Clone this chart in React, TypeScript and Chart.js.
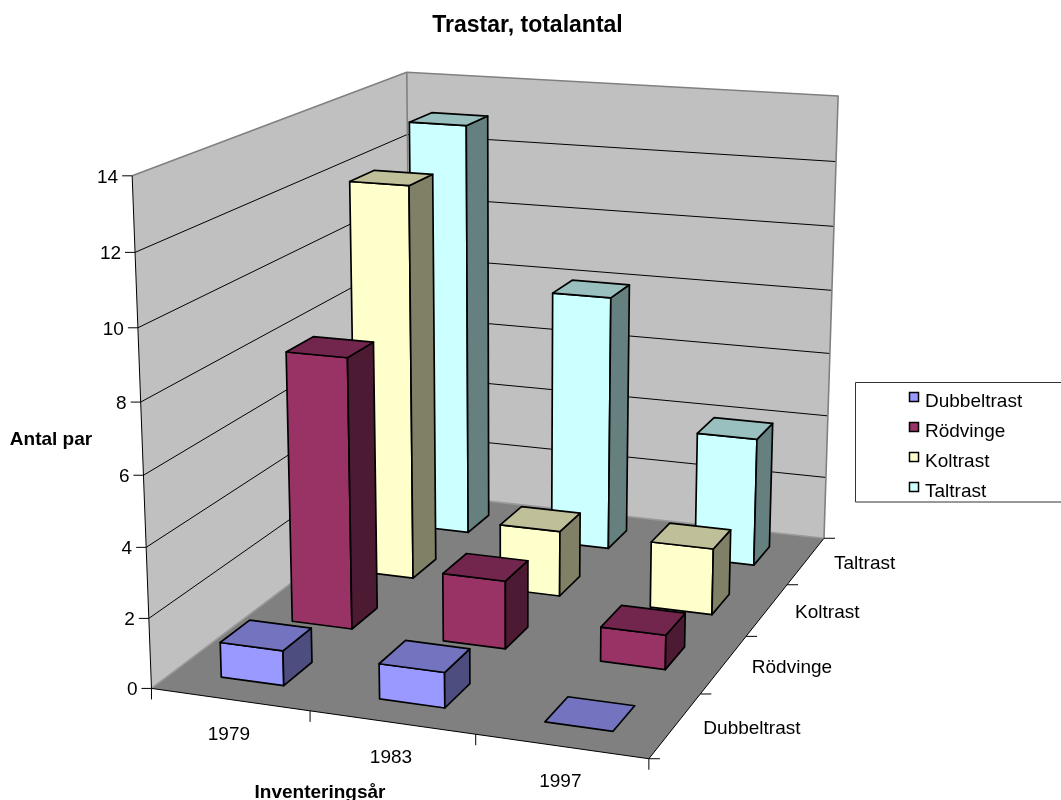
import React, { useEffect, useRef } from "react";
import { Chart, BarController, registerables } from "chart.js";

// Survey years and thrush species, front row first.
const years = ["1979", "1983", "1997"];
const dubbeltrast = [1, 1, 0];
const rodvinge = [8, 2, 1];
const koltrast = [12, 2, 2];
const taltrast = [13, 8, 4];
const valueTickStep = 2;
const valueMax = 14;

const FONT = '"Liberation Sans", Arial, sans-serif';
const BAR_DEPTH = 0.4; // share of a series row taken by a bar

type V3 = [number, number, number];

// Where the corners of the unit box (year, series, value) land on the canvas.
const boxCorners: [V3, [number, number]][] = [
  [[0, 0, 0], [151.5, 688]],
  [[1, 0, 0], [649, 759]],
  [[1, 1, 0], [824, 538]],
  [[0, 1, 0], [411, 493]],
  [[0, 0, 1], [132, 176]],
  [[0, 1, 1], [407, 72]],
  [[1, 1, 1], [838, 96]],
];

// Least-squares fit of a 3x4 projective camera, with its last element fixed at 1.
function fitCamera(points: [V3, [number, number]][]): number[] {
  const n = 11;
  const ata = Array.from({ length: n }, () => new Array(n + 1).fill(0));
  const addRow = (row: number[], rhs: number) => {
    for (let i = 0; i < n; i++) {
      for (let j = 0; j < n; j++) ata[i][j] += row[i] * row[j];
      ata[i][n] += row[i] * rhs;
    }
  };
  for (const [[X, Y, Z], [x, y]] of points) {
    addRow([X, Y, Z, 1, 0, 0, 0, 0, -x * X, -x * Y, -x * Z], x);
    addRow([0, 0, 0, 0, X, Y, Z, 1, -y * X, -y * Y, -y * Z], y);
  }
  for (let i = 0; i < n; i++) ata[i][i] += 1e-9;
  for (let c = 0; c < n; c++) {
    let pivot = c;
    for (let r = c + 1; r < n; r++) if (Math.abs(ata[r][c]) > Math.abs(ata[pivot][c])) pivot = r;
    [ata[c], ata[pivot]] = [ata[pivot], ata[c]];
    for (let r = 0; r < n; r++) {
      if (r === c) continue;
      const f = ata[r][c] / ata[c][c];
      for (let k = c; k <= n; k++) ata[r][k] -= f * ata[c][k];
    }
  }
  return ata.map((row, i) => row[n] / row[i]);
}

const cam = fitCamera(boxCorners);
const project = (X: number, Y: number, Z: number): [number, number] => {
  const d = cam[8] * X + cam[9] * Y + cam[10] * Z + 1;
  return [
    (cam[0] * X + cam[1] * Y + cam[2] * Z + cam[3]) / d,
    (cam[4] * X + cam[5] * Y + cam[6] * Z + cam[7]) / d,
  ];
};

function shade(hex: string, k: number): string {
  const n = parseInt(hex.slice(1), 16);
  const c = [(n >> 16) & 255, (n >> 8) & 255, n & 255].map((v) => Math.round(v * k));
  return `rgb(${c[0]},${c[1]},${c[2]})`;
}

function poly(ctx: CanvasRenderingContext2D, pts: [number, number][], fill: string | null, stroke: string | null, width = 1) {
  ctx.beginPath();
  pts.forEach(([x, y], i) => (i ? ctx.lineTo(x, y) : ctx.moveTo(x, y)));
  if (fill) {
    ctx.closePath();
    ctx.fillStyle = fill;
    ctx.fill();
  }
  if (stroke) {
    ctx.strokeStyle = stroke;
    ctx.lineWidth = width;
    ctx.lineJoin = "round";
    ctx.stroke();
  }
}

// Bar controller that renders each bar element as a projected prism.
class Bar3DController extends BarController {
  static id = "bar3d";
  draw() {
    const chart: any = this.chart;
    const ctx: CanvasRenderingContext2D = chart.ctx;
    const meta: any = this.getMeta();
    const xs = meta.xScale;
    const ys = meta.yScale;
    const rows = chart.data.datasets.length;
    const color: string = (this.getDataset() as any).backgroundColor;
    const y0 = (meta.index + 0.5 - BAR_DEPTH / 2) / rows;
    const y1 = (meta.index + 0.5 + BAR_DEPTH / 2) / rows;
    meta.data.forEach((el: any) => {
      const x0 = (el.x - el.width / 2 - xs.left) / xs.width;
      const x1 = (el.x + el.width / 2 - xs.left) / xs.width;
      const z = (ys.bottom - el.y) / ys.height;
      const top: [number, number][] = [project(x0, y0, z), project(x1, y0, z), project(x1, y1, z), project(x0, y1, z)];
      if (z > 0) {
        poly(ctx, [project(x0, y0, 0), project(x1, y0, 0), project(x1, y0, z), project(x0, y0, z)], color, "#000", 1.7);
        poly(ctx, [project(x1, y0, 0), project(x1, y1, 0), project(x1, y1, z), project(x1, y0, z)], shade(color, 0.5), "#000", 1.7);
      }
      poly(ctx, top, shade(color, 0.75), "#000", 1.7);
    });
  }
}

Chart.register(...registerables, Bar3DController);

function text(ctx: CanvasRenderingContext2D, s: string, x: number, y: number, align: CanvasTextAlign, bold = false) {
  ctx.font = `${bold ? "bold " : ""}19px ${FONT}`;
  ctx.fillStyle = "#000";
  ctx.textAlign = align;
  ctx.textBaseline = "middle";
  ctx.fillText(s, x, y);
}

// Walls, floor, gridlines, tick marks and axis texts of the box.
const boxFrame = {
  id: "boxFrame",
  beforeDatasetsDraw(chart: any) {
    const ctx: CanvasRenderingContext2D = chart.ctx;
    const xs = chart.scales.x;
    const ys = chart.scales.y;
    const names: string[] = chart.data.datasets.map((d: any) => d.label);
    const wallEdge = "#808080";

    poly(ctx, [project(0, 0, 0), project(0, 1, 0), project(0, 1, 1), project(0, 0, 1)], "#c0c0c0", null);
    poly(ctx, [project(0, 1, 0), project(1, 1, 0), project(1, 1, 1), project(0, 1, 1)], "#c0c0c0", null);
    poly(ctx, [project(0, 0, 0), project(1, 0, 0), project(1, 1, 0), project(0, 1, 0)], "#808080", null);

    for (const t of ys.ticks) {
      const z = (ys.bottom - ys.getPixelForValue(t.value)) / ys.height;
      if (z > 0 && z < 1) poly(ctx, [project(0, 0, z), project(0, 1, z), project(1, 1, z)], null, "#000", 1);
    }
    poly(ctx, [project(0, 0, 1), project(0, 1, 1), project(1, 1, 1), project(1, 1, 0)], null, wallEdge, 1.6);
    poly(ctx, [project(0, 1, 1), project(0, 1, 0)], null, wallEdge, 1.6);
    poly(ctx, [project(0, 0, 0), project(0, 1, 0), project(1, 1, 0)], null, "#999", 1.6);
    poly(ctx, [project(0, 0, 1), project(0, 0, 0), project(1, 0, 0), project(1, 1, 0)], null, "#000", 1);

    for (const t of ys.ticks) {
      const z = (ys.bottom - ys.getPixelForValue(t.value)) / ys.height;
      const [x, y] = project(0, 0, z);
      poly(ctx, [[x - 10, y], [x, y]], null, "#000", 1);
      text(ctx, String(t.value), x - 14, y + 1.5, "right");
    }

    const cats = years.length;
    for (let i = 0; i <= cats; i++) {
      const [x, y] = project(i / cats, 0, 0);
      poly(ctx, [[x, y], [x, y + 11]], null, "#000", 1);
    }
    xs.getLabels().forEach((label: string, i: number) => {
      const u = (xs.getPixelForValue(i) - xs.left) / xs.width;
      const [x, y] = project(u, 0, 0);
      text(ctx, label, x - 1, y + 35.5, "center");
    });

    for (let j = 0; j <= names.length; j++) {
      const [x, y] = project(1, j / names.length, 0);
      poly(ctx, [[x, y], [x + 11, y]], null, "#000", 1);
    }
    names.forEach((name, j) => {
      const [x, y] = project(1, (j + 0.5) / names.length, 0);
      text(ctx, name, x + 28, y + 3, "left");
    });

    text(ctx, "Antal par", 51, 440, "center", true);
    text(ctx, "Inventeringsår", 320, 792.5, "center", true);

    ctx.strokeStyle = "#333";
    ctx.lineWidth = 1;
    ctx.strokeRect(855.5, 382.5, 220, 119.5);
  },
};

// Moves the legend into its framed box to the right of the plot.
const legendPlacement = {
  id: "legendPlacement",
  afterLayout(chart: any) {
    const l = chart.legend;
    const w = l.width;
    const h = l.height;
    l.left = 896.5;
    l.right = 896.5 + w;
    l.top = 381;
    l.bottom = 381 + h;
  },
};

// Legend marker on a transparent tile, sitting above the text's middle line.
function swatch(color: string): HTMLCanvasElement {
  const c = document.createElement("canvas");
  c.width = 17;
  c.height = 21;
  const g = c.getContext("2d")!;
  g.fillStyle = color;
  g.fillRect(6.5, 1.5, 9, 9);
  g.strokeStyle = "#000";
  g.lineWidth = 1.5;
  g.strokeRect(6.5, 1.5, 9, 9);
  return c;
}

export default function App() {
  const ref = useRef<HTMLCanvasElement>(null);
  useEffect(() => {
    const common = { grouped: false, categoryPercentage: 0.4, barPercentage: 1 };
    const chart = new Chart(ref.current!, {
      type: "bar3d" as any,
      data: {
        labels: years,
        datasets: [
          { label: "Dubbeltrast", data: dubbeltrast, backgroundColor: "#9999ff", ...common },
          { label: "Rödvinge", data: rodvinge, backgroundColor: "#993366", ...common },
          { label: "Koltrast", data: koltrast, backgroundColor: "#ffffcc", ...common },
          { label: "Taltrast", data: taltrast, backgroundColor: "#ccffff", ...common },
        ] as any,
      },
      options: {
        responsive: false,
        animation: false,
        layout: { padding: { right: 6 } },
        scales: {
          x: { display: false, type: "category", offset: true },
          y: { display: false, min: 0, max: valueMax, ticks: { stepSize: valueTickStep } },
        },
        plugins: {
          title: {
            display: true,
            text: "Trastar, totalantal",
            color: "#000",
            font: { family: FONT, size: 23, weight: "bold" },
            padding: { top: 12, bottom: 10 },
          },
          legend: {
            position: "right",
            align: "start",
            labels: {
              color: "#000",
              font: { family: FONT, size: 19 },
              boxWidth: 8,
              boxHeight: 8,
              padding: 11,
              usePointStyle: true,
              generateLabels: (c: any) =>
                c.data.datasets.map((d: any, i: number) => ({
                  text: d.label,
                  fontColor: "#000",
                  datasetIndex: i,
                  pointStyle: swatch(d.backgroundColor),
                  lineWidth: 0,
                })),
            },
          },
          tooltip: { enabled: false },
        },
      } as any,
      plugins: [boxFrame, legendPlacement],
    } as any);
    return () => chart.destroy();
  }, []);
  return <canvas ref={ref} width={1061} height={800} style={{ position: "absolute", left: 0, top: 0, display: "block" }} />;
}
